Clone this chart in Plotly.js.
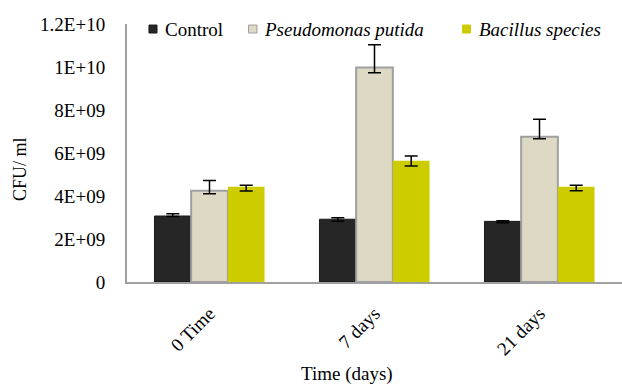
<!DOCTYPE html>
<html>
<head>
<meta charset="utf-8">
<script src="https://cdn.plot.ly/plotly-3.0.1.min.js"></script>
<style>html,body{margin:0;padding:0;background:#fff;}#chart{width:622px;height:387px;}</style>
</head>
<body>
<div id="chart"></div>
<script>
var categories = ['0 Time', '7 days', '21 days'];
var seriesNames = ['Control', 'Pseudomonas putida', 'Bacillus species'];
var controlValues = [3.07e9, 2.92e9, 2.82e9];
var controlErrPlus = [0.1e9, 0.07e9, 0.03e9];
var controlErrMinus = [0.02e9, 0.1e9, 0.06e9];
var pseudoValues = [4.25e9, 9.98e9, 6.76e9];
var pseudoErrPlus = [0.47e9, 1.05e9, 0.81e9];
var pseudoErrMinus = [0.15e9, 0.25e9, 0.1e9];
var bacillusValues = [4.43e9, 5.64e9, 4.43e9];
var bacillusErrPlus = [0.07e9, 0.22e9, 0.07e9];
var bacillusErrMinus = [0.2e9, 0.25e9, 0.19e9];
var yTickVals = [0, 2e9, 4e9, 6e9, 8e9, 1e10, 1.2e10];
var yTickText = ['0', '2E+09', '4E+09', '6E+09', '8E+09', '1E+10', '1.2E+10'];

var colors = ['#262626', '#ddd9c4', '#cccc00'];
var lineColors = ['#1a1a1a', '#a0a0a0', '#cccc00'];
var FONT = 'Liberation Serif, Times New Roman, serif';

function errObj(p, m) {
  return {type: 'data', symmetric: false, array: p, arrayminus: m,
          color: '#000', thickness: 1.5, width: 6.5};
}
var traces = [
  {type: 'bar', name: seriesNames[0], x: categories, y: controlValues,
   marker: {color: colors[0], line: {color: lineColors[0], width: 1}},
   error_y: errObj(controlErrPlus, controlErrMinus)},
  {type: 'bar', name: seriesNames[1], x: categories, y: pseudoValues,
   marker: {color: colors[1], line: {color: lineColors[1], width: 2}},
   error_y: errObj(pseudoErrPlus, pseudoErrMinus)},
  {type: 'bar', name: seriesNames[2], x: categories, y: bacillusValues,
   marker: {color: colors[2], line: {color: lineColors[2], width: 0}},
   error_y: errObj(bacillusErrPlus, bacillusErrMinus)}
];

// custom legend (layout decoration)
var legX = [[0.0444, 0.0606], [0.2455, 0.2626], [0.6778, 0.6939]];
var legTextX = [0.0727, 0.2727, 0.7071];
var legLabels = [seriesNames[0], '<i>' + seriesNames[1] + '</i>', '<i>' + seriesNames[2] + '</i>'];
var shapes = [], annotations = [];
for (var i = 0; i < 3; i++) {
  shapes.push({type: 'rect', xref: 'paper', yref: 'paper',
    x0: legX[i][0], x1: legX[i][1], y0: 0.965, y1: 0.996,
    fillcolor: colors[i], line: {color: i === 1 ? '#a0a0a0' : lineColors[i], width: 1}});
  annotations.push({xref: 'paper', yref: 'paper', x: legTextX[i], y: 0.9806,
    xanchor: 'left', yanchor: 'middle', showarrow: false, text: legLabels[i],
    font: {family: FONT, size: 19, color: '#000'}});
}
annotations.push({xref: 'paper', yref: 'paper', x: -0.2152, y: 0.44, textangle: -90,
  xanchor: 'center', yanchor: 'middle', showarrow: false, text: 'CFU/ ml',
  font: {family: FONT, size: 18, color: '#000'}});
annotations.push({xref: 'paper', yref: 'paper', x: 0.4444, y: -0.358,
  xanchor: 'center', yanchor: 'middle', showarrow: false, text: 'Time (days)',
  font: {family: FONT, size: 19, color: '#000'}});

var layout = {
  width: 622, height: 387,
  margin: {l: 127, r: 0, t: 24, b: 105, pad: 0},
  paper_bgcolor: '#fff', plot_bgcolor: '#fff',
  barmode: 'group', bargap: 0.333, bargroupgap: 0,
  showlegend: false,
  font: {family: FONT, size: 19, color: '#000'},
  xaxis: {type: 'category', showline: true, linecolor: '#a0a0a0', linewidth: 2,
    ticks: '', showgrid: false, zeroline: false, tickangle: -45,
    tickfont: {family: FONT, size: 19, color: '#000'}, ticklabelstandoff: 11},
  yaxis: {range: [0, 1.2e10], showline: true, linecolor: '#a0a0a0', linewidth: 2,
    ticks: '', showgrid: false, zeroline: false,
    tickmode: 'array', tickvals: yTickVals, ticktext: yTickText,
    tickfont: {family: FONT, size: 19, color: '#000'}, ticklabelstandoff: 16},
  shapes: shapes,
  annotations: annotations
};
Plotly.newPlot('chart', traces, layout, {displayModeBar: false, staticPlot: true});
</script>
</body>
</html>
